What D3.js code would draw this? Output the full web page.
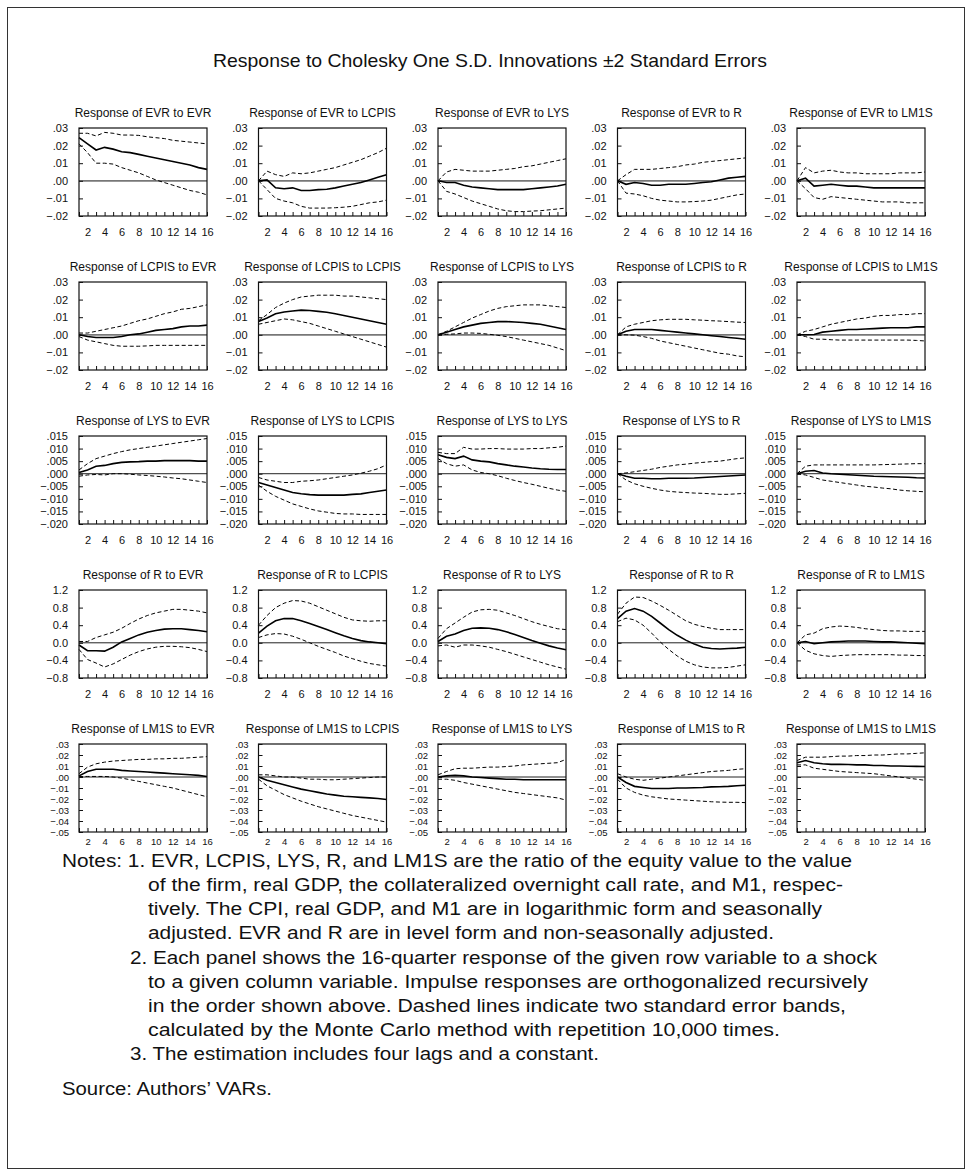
<!DOCTYPE html>
<html><head><meta charset="utf-8">
<script src="https://cdn.jsdelivr.net/npm/d3@7"></script>
<style>
body{margin:0;background:#fff;}
svg{display:block;font-family:"Liberation Sans",Arial,Helvetica,sans-serif;}
</style></head><body>
<svg id="chart" width="972" height="1176"></svg>
<script>
// ---------------- DATA ----------------
const variables = ["EVR", "LCPIS", "LYS", "R", "LM1S"];
const periods = d3.range(1, 17);
const xTickLabels = [2, 4, 6, 8, 10, 12, 14, 16];

// y-axis ticks for each response (row) variable
const yTicksEVR   = [-0.02, -0.01, 0, 0.01, 0.02, 0.03];
const yTicksLCPIS = [-0.02, -0.01, 0, 0.01, 0.02, 0.03];
const yTicksLYS   = [-0.02, -0.015, -0.01, -0.005, 0, 0.005, 0.01, 0.015];
const yTicksR     = [-0.8, -0.4, 0, 0.4, 0.8, 1.2];
const yTicksLM1S  = [-0.05, -0.04, -0.03, -0.02, -0.01, 0, 0.01, 0.02, 0.03];
const yLabelsEVR   = ["\u2212.02", "\u2212.01", ".00", ".01", ".02", ".03"];
const yLabelsLCPIS = ["\u2212.02", "\u2212.01", ".00", ".01", ".02", ".03"];
const yLabelsLYS   = ["\u2212.020", "\u2212.015", "\u2212.010", "\u2212.005", ".000", ".005", ".010", ".015"];
const yLabelsR     = ["\u22120.8", "\u22120.4", "0.0", "0.4", "0.8", "1.2"];
const yLabelsLM1S  = ["\u2212.05", "\u2212.04", "\u2212.03", "\u2212.02", "\u2212.01", ".00", ".01", ".02", ".03"];

// Impulse responses: one row per shock (column variable), 16 quarters each
const irfEVR = [
  [.0245,.021,.0175,.019,.018,.0165,.016,.015,.014,.013,.012,.011,.010,.009,.0075,.0065],
  [0,.0005,-.004,-.0045,-.004,-.0055,-.0055,-.005,-.0048,-.004,-.003,-.002,-.001,.0005,.002,.0035],
  [0,-.001,-.001,-.0025,-.0035,-.004,-.0045,-.005,-.005,-.005,-.005,-.0045,-.004,-.0035,-.003,-.002],
  [0,-.002,-.001,-.0015,-.0025,-.0025,-.002,-.002,-.002,-.0015,-.001,-.0005,.0005,.0015,.002,.0025],
  [0,.0015,-.003,-.0025,-.002,-.0025,-.003,-.003,-.0035,-.004,-.004,-.004,-.004,-.004,-.004,-.004]
];
const upEVR = [
  [.027,.027,.0255,.0275,.027,.026,.026,.0258,.025,.0245,.024,.023,.0225,.022,.0215,.021],
  [0,.0055,.0035,.0025,.0045,.004,.0045,.0055,.0065,.0075,.009,.0105,.012,.014,.016,.0185],
  [0,.005,.0065,.006,.0055,.0055,.0055,.006,.0065,.007,.008,.0085,.0095,.0105,.0115,.0125],
  [0,.0035,.0065,.0065,.0065,.007,.0075,.008,.009,.0095,.0105,.011,.0115,.012,.0125,.013],
  [0,.0075,.0045,.0055,.006,.005,.0045,.0045,.004,.004,.004,.004,.0045,.0045,.0045,.005]
];
const loEVR = [
  [.021,.016,.010,.010,.0095,.0075,.006,.0045,.0025,.0005,-.001,-.0025,-.004,-.0055,-.0065,-.008],
  [0,-.005,-.010,-.0115,-.0125,-.0145,-.0155,-.0155,-.0155,-.0153,-.015,-.0145,-.0135,-.0125,-.012,-.011],
  [0,-.006,-.0075,-.0095,-.0115,-.013,-.0145,-.016,-.017,-.0175,-.0175,-.0172,-.017,-.0165,-.016,-.0155],
  [0,-.007,-.0075,-.0085,-.010,-.011,-.0115,-.012,-.012,-.0118,-.0115,-.011,-.010,-.009,-.008,-.0075],
  [0,-.0045,-.0095,-.0105,-.009,-.0095,-.010,-.0105,-.011,-.0115,-.012,-.012,-.012,-.0125,-.0125,-.0125]
];

const irfLCPIS = [
  [0,-.001,-.0015,-.0015,-.0015,-.001,0,.0005,.0015,.0025,.003,.0035,.0045,.005,.005,.0055],
  [.0075,.0095,.012,.013,.0135,.014,.0138,.0133,.0128,.012,.011,.010,.009,.008,.007,.006],
  [0,.0015,.003,.0045,.0055,.0065,.007,.0075,.0075,.0073,.007,.0065,.006,.005,.004,.003],
  [0,.002,.003,.003,.003,.0025,.002,.0015,.001,.0005,0,-.0005,-.001,-.0015,-.002,-.0025],
  [0,0,.0002,.0015,.002,.0025,.003,.003,.0033,.0035,.0038,.004,.004,.004,.0045,.0045]
];
const upLCPIS = [
  [.001,.001,.002,.003,.004,.005,.0065,.008,.009,.0105,.012,.013,.0145,.015,.016,.017],
  [.008,.0115,.0155,.018,.020,.0215,.022,.0225,.0225,.0225,.022,.022,.0215,.021,.0205,.020],
  [0,.002,.0045,.007,.0095,.0115,.0135,.015,.016,.0165,.017,.017,.017,.0165,.016,.0155],
  [0,.0045,.006,.007,.008,.0085,.0088,.0088,.0088,.0085,.0083,.008,.0078,.0075,.0072,.007],
  [0,.002,.003,.0045,.006,.007,.008,.009,.0095,.0105,.011,.011,.0115,.0115,.012,.012]
];
const loLCPIS = [
  [-.001,-.003,-.004,-.005,-.006,-.0065,-.0065,-.0065,-.0063,-.006,-.006,-.006,-.006,-.006,-.006,-.006],
  [.006,.007,.008,.009,.0085,.0075,.0065,.005,.0035,.002,.0005,-.001,-.0025,-.004,-.0055,-.007],
  [0,.0003,.0005,.001,.001,.0008,.0003,-.0003,-.001,-.002,-.003,-.004,-.005,-.006,-.0075,-.009],
  [0,0,-.0002,-.001,-.002,-.0035,-.0045,-.0055,-.0065,-.0075,-.0085,-.0095,-.0105,-.011,-.012,-.0125],
  [0,-.001,-.0025,-.0025,-.0028,-.003,-.003,-.003,-.003,-.003,-.003,-.003,-.003,-.003,-.0032,-.0035]
];

const irfLYS = [
  [.0005,.0015,.003,.0033,.004,.0045,.0047,.0048,.005,.005,.0052,.0052,.0052,.0052,.005,.005],
  [-.0035,-.0045,-.0055,-.0065,-.0075,-.008,-.0083,-.0085,-.0085,-.0085,-.0085,-.0082,-.008,-.0075,-.007,-.0065],
  [.0075,.0065,.006,.007,.0055,.005,.0047,.004,.0035,.003,.0027,.0023,.002,.0018,.0017,.0017],
  [0,-.001,-.0018,-.0018,-.002,-.002,-.0018,-.0018,-.0018,-.0017,-.0015,-.0013,-.0011,-.0009,-.0007,-.0005],
  [0,.001,.0013,.0003,0,-.0002,-.0004,-.0006,-.0008,-.001,-.0011,-.0012,-.0013,-.0014,-.0016,-.0017]
];
const upLYS = [
  [.0015,.004,.006,.007,.008,.0088,.0095,.010,.0105,.011,.0115,.012,.0125,.013,.0135,.014],
  [-.0015,-.0025,-.003,-.0035,-.0035,-.003,-.0028,-.0025,-.002,-.0015,-.001,-.0005,.0002,.001,.002,.0035],
  [.0085,.008,.008,.0105,.0098,.0098,.010,.010,.0098,.0098,.0098,.010,.010,.0103,.0105,.011],
  [0,.0003,.0008,.0013,.0018,.0025,.003,.0035,.0038,.0042,.0045,.0048,.005,.0055,.006,.0063],
  [0,.003,.0035,.0035,.0035,.0035,.0035,.0035,.0035,.0035,.0036,.0037,.0038,.0039,.004,.004]
];
const loLYS = [
  [-.001,-.0005,-.0003,-.0005,0,0,-.0002,-.0005,-.0007,-.001,-.0013,-.0017,-.002,-.0025,-.003,-.0035],
  [-.0045,-.007,-.009,-.0105,-.012,-.013,-.014,-.0148,-.0153,-.0158,-.016,-.016,-.0162,-.0162,-.0162,-.0162],
  [.006,.004,.003,.0035,.0015,.0005,0,-.0008,-.0018,-.0027,-.0035,-.0042,-.005,-.0058,-.0065,-.007],
  [0,-.0025,-.004,-.005,-.0058,-.0065,-.007,-.0073,-.0075,-.0077,-.0078,-.008,-.0082,-.0082,-.008,-.0078],
  [0,-.0005,-.0015,-.0025,-.003,-.0035,-.004,-.0045,-.005,-.0053,-.0057,-.006,-.0065,-.0068,-.007,-.0072]
];

const irfR = [
  [-.05,-.18,-.18,-.19,-.10,.02,.10,.18,.24,.28,.31,.32,.32,.30,.28,.25],
  [.22,.38,.50,.55,.55,.50,.44,.37,.30,.23,.16,.10,.05,.02,0,-.02],
  [.03,.15,.20,.28,.33,.34,.33,.30,.25,.19,.12,.05,-.01,-.07,-.12,-.16],
  [.55,.72,.78,.72,.60,.45,.30,.17,.06,-.03,-.10,-.13,-.14,-.13,-.12,-.10],
  [0,.03,-.02,0,.02,.03,.04,.04,.04,.03,.02,.02,.01,0,-.01,-.02]
];
const upR = [
  [.03,.03,.12,.18,.24,.33,.44,.54,.62,.68,.72,.76,.76,.74,.72,.68],
  [.40,.62,.80,.90,.96,.95,.90,.82,.74,.66,.58,.52,.50,.49,.50,.50],
  [.10,.32,.45,.58,.70,.75,.76,.74,.68,.62,.55,.48,.42,.37,.32,.30],
  [.65,.90,1.04,1.03,.95,.85,.74,.62,.50,.42,.37,.33,.30,.30,.30,.30],
  [0,.18,.22,.32,.36,.38,.37,.35,.32,.30,.28,.27,.27,.26,.26,.26]
];
const loR = [
  [-.15,-.38,-.46,-.55,-.48,-.38,-.28,-.20,-.14,-.10,-.08,-.08,-.09,-.11,-.15,-.20],
  [.12,.18,.21,.20,.15,.08,0,-.08,-.15,-.22,-.30,-.36,-.42,-.47,-.50,-.53],
  [-.07,-.05,-.10,-.05,-.05,-.07,-.10,-.15,-.20,-.26,-.32,-.38,-.44,-.50,-.55,-.60],
  [.48,.56,.52,.40,.22,.02,-.15,-.30,-.42,-.50,-.55,-.57,-.57,-.56,-.53,-.50],
  [0,-.17,-.25,-.29,-.31,-.29,-.28,-.27,-.27,-.27,-.27,-.27,-.28,-.28,-.29,-.29]
];

const irfLM1S = [
  [.001,.005,.007,.007,.007,.006,.0055,.005,.0045,.004,.0035,.003,.0025,.002,.0015,.0005],
  [0,-.003,-.005,-.007,-.009,-.011,-.0125,-.014,-.0155,-.0165,-.0175,-.018,-.0185,-.019,-.0195,-.0205],
  [0,.001,.0015,.001,0,-.0005,-.001,-.0015,-.002,-.002,-.0025,-.0025,-.0025,-.0025,-.0025,-.0025],
  [0,-.005,-.0085,-.0095,-.0105,-.0105,-.0105,-.010,-.010,-.0098,-.0095,-.009,-.0088,-.0085,-.008,-.0075],
  [.013,.015,.013,.012,.0115,.0115,.0113,.011,.011,.0105,.0105,.010,.010,.0098,.0097,.0095]
];
const upLM1S = [
  [.003,.009,.012,.0135,.0145,.015,.0155,.016,.016,.0165,.0165,.017,.017,.0175,.018,.0185],
  [.002,.002,.001,0,0,-.001,-.002,-.002,-.0025,-.0025,-.002,-.0015,-.001,-.0005,0,0],
  [.002,.005,.0075,.008,.008,.0085,.009,.009,.0095,.010,.011,.0115,.012,.0125,.013,.016],
  [.003,0,-.002,-.003,-.002,-.001,0,.001,.002,.003,.004,.005,.0055,.006,.007,.0075],
  [.015,.018,.018,.018,.0185,.019,.019,.0195,.0195,.020,.020,.0205,.021,.021,.0215,.022]
];
const loLM1S = [
  [.0005,.0005,.0005,.0005,0,-.001,-.0025,-.004,-.0055,-.007,-.0085,-.010,-.012,-.014,-.016,-.018],
  [-.002,-.008,-.012,-.016,-.019,-.022,-.0245,-.027,-.029,-.031,-.033,-.035,-.0365,-.038,-.0395,-.041],
  [-.002,-.002,-.003,-.005,-.0065,-.008,-.0095,-.011,-.0125,-.014,-.015,-.016,-.017,-.018,-.019,-.021],
  [-.002,-.010,-.014,-.0165,-.018,-.019,-.020,-.0205,-.021,-.0215,-.022,-.0225,-.0228,-.023,-.023,-.0233],
  [.011,.011,.008,.007,.006,.005,.0045,.004,.0035,.003,.002,.001,0,-.001,-.002,-.003]
];

const chartTitle = "Response to Cholesky One S.D. Innovations \u00b12 Standard Errors";
const notesLines = [
  "Notes: 1. EVR, LCPIS, LYS, R, and LM1S are the ratio of the equity value to the value",
  "of the firm, real GDP, the collateralized overnight call rate, and M1, respec-",
  "tively. The CPI, real GDP, and M1 are in logarithmic form and seasonally",
  "adjusted. EVR and R are in level form and non-seasonally adjusted.",
  "2. Each panel shows the 16-quarter response of the given row variable to a shock",
  "to a given column variable. Impulse responses are orthogonalized recursively",
  "in the order shown above. Dashed lines indicate two standard error bands,",
  "calculated by the Monte Carlo method with repetition 10,000 times.",
  "3. The estimation includes four lags and a constant.",
  "Source: Authors\u2019 VARs."
];

// ---------------- LAYOUT ----------------
const rows = [
  {irf: irfEVR, up: upEVR, lo: loEVR, ticks: yTicksEVR, labels: yLabelsEVR, zero: "#777", zw: 1.8},
  {irf: irfLCPIS, up: upLCPIS, lo: loLCPIS, ticks: yTicksLCPIS, labels: yLabelsLCPIS, zero: "#777", zw: 1.8},
  {irf: irfLYS, up: upLYS, lo: loLYS, ticks: yTicksLYS, labels: yLabelsLYS, zero: "#222", zw: 1},
  {irf: irfR, up: upR, lo: loR, ticks: yTicksR, labels: yLabelsR, zero: "#222", zw: 1},
  {irf: irfLM1S, up: upLM1S, lo: loLM1S, ticks: yTicksLM1S, labels: yLabelsLM1S, zero: "#222", zw: 1}
];

const svg = d3.select("#chart");
svg.append("rect").attr("x", 7.5).attr("y", 7.5).attr("width", 957).attr("height", 1161)
  .attr("fill", "none").attr("stroke", "#333").attr("stroke-width", 1);

svg.append("text").attr("x", 490).attr("y", 67).attr("text-anchor", "middle")
  .attr("font-size", 19).attr("fill", "#111")
  .attr("textLength", 554).attr("lengthAdjust", "spacingAndGlyphs").text(chartTitle);

const pw = 128, ph = 88;
const left0 = 79, colStep = 179.5, top0 = 128, rowStep = 154;
const x = d3.scaleLinear().domain([1, 16]).range([0, pw]);

rows.forEach((row, r) => {
  const dom = d3.extent(row.ticks);
  const y = d3.scaleLinear().domain(dom).range([ph, 0]);
  const small = r === 4;
  variables.forEach((shock, c) => {
    const g = svg.append("g").attr("transform", `translate(${left0 + c * colStep},${top0 + r * rowStep})`);
    g.append("text").attr("x", pw / 2).attr("y", -11).attr("text-anchor", "middle")
      .attr("font-size", 12).attr("fill", "#111")
      .text(`Response of ${variables[r]} to ${shock}`);
    // zero line
    g.append("line").attr("x1", 0).attr("x2", pw).attr("y1", y(0)).attr("y2", y(0))
      .attr("stroke", row.zero).attr("stroke-width", row.zw);
    // y axis
    const ya = d3.axisLeft(y).tickValues(row.ticks).tickSize(-4).tickPadding(small ? 10 : 11)
      .tickFormat((d, i) => row.labels[i]);
    const yg = g.append("g").call(ya);
    yg.select(".domain").remove();
    yg.selectAll("text").attr("font-size", small ? 9.5 : 11).attr("font-family", "Liberation Sans, Arial, sans-serif").attr("fill", "#111");
    yg.selectAll("line").attr("stroke", "#111");
    // x axis
    const xa = d3.axisBottom(x).tickValues(periods).tickSize(-4).tickPadding(small ? 6 : 12)
      .tickFormat(d => xTickLabels.includes(d) ? d : "");
    const xg = g.append("g").attr("transform", `translate(0,${ph})`).call(xa);
    xg.select(".domain").remove();
    xg.selectAll("text").attr("font-size", small ? 9.5 : 11).attr("font-family", "Liberation Sans, Arial, sans-serif").attr("fill", "#111");
    xg.selectAll("line").attr("stroke", "#111");
    // lines
    const line = d3.line().x((d, i) => x(periods[i])).y(d => y(d));
    g.append("path").attr("d", line(row.up[c])).attr("fill", "none").attr("stroke", "#000")
      .attr("stroke-width", 1).attr("stroke-dasharray", "4,2.5");
    g.append("path").attr("d", line(row.lo[c])).attr("fill", "none").attr("stroke", "#000")
      .attr("stroke-width", 1).attr("stroke-dasharray", "4,2.5");
    g.append("path").attr("d", line(row.irf[c])).attr("fill", "none").attr("stroke", "#000")
      .attr("stroke-width", 1.6);
    // frame
    g.append("rect").attr("width", pw).attr("height", ph).attr("fill", "none")
      .attr("stroke", "#111").attr("stroke-width", 1.2);
  });
});

// notes
const noteX = [62, 148, 148, 148, 130, 148, 148, 148, 130, 62];
const noteY = [867, 891, 915, 939, 964, 988, 1012, 1036, 1060, 1095];
const noteW = [790, 695, 674, 626, 747, 720, 698, 632, 469, 210];
notesLines.forEach((t, i) => {
  svg.append("text").attr("x", noteX[i]).attr("y", noteY[i]).attr("font-size", 17.5)
    .attr("fill", "#111").attr("textLength", noteW[i]).attr("lengthAdjust", "spacingAndGlyphs").text(t);
});
</script>
</body></html>
